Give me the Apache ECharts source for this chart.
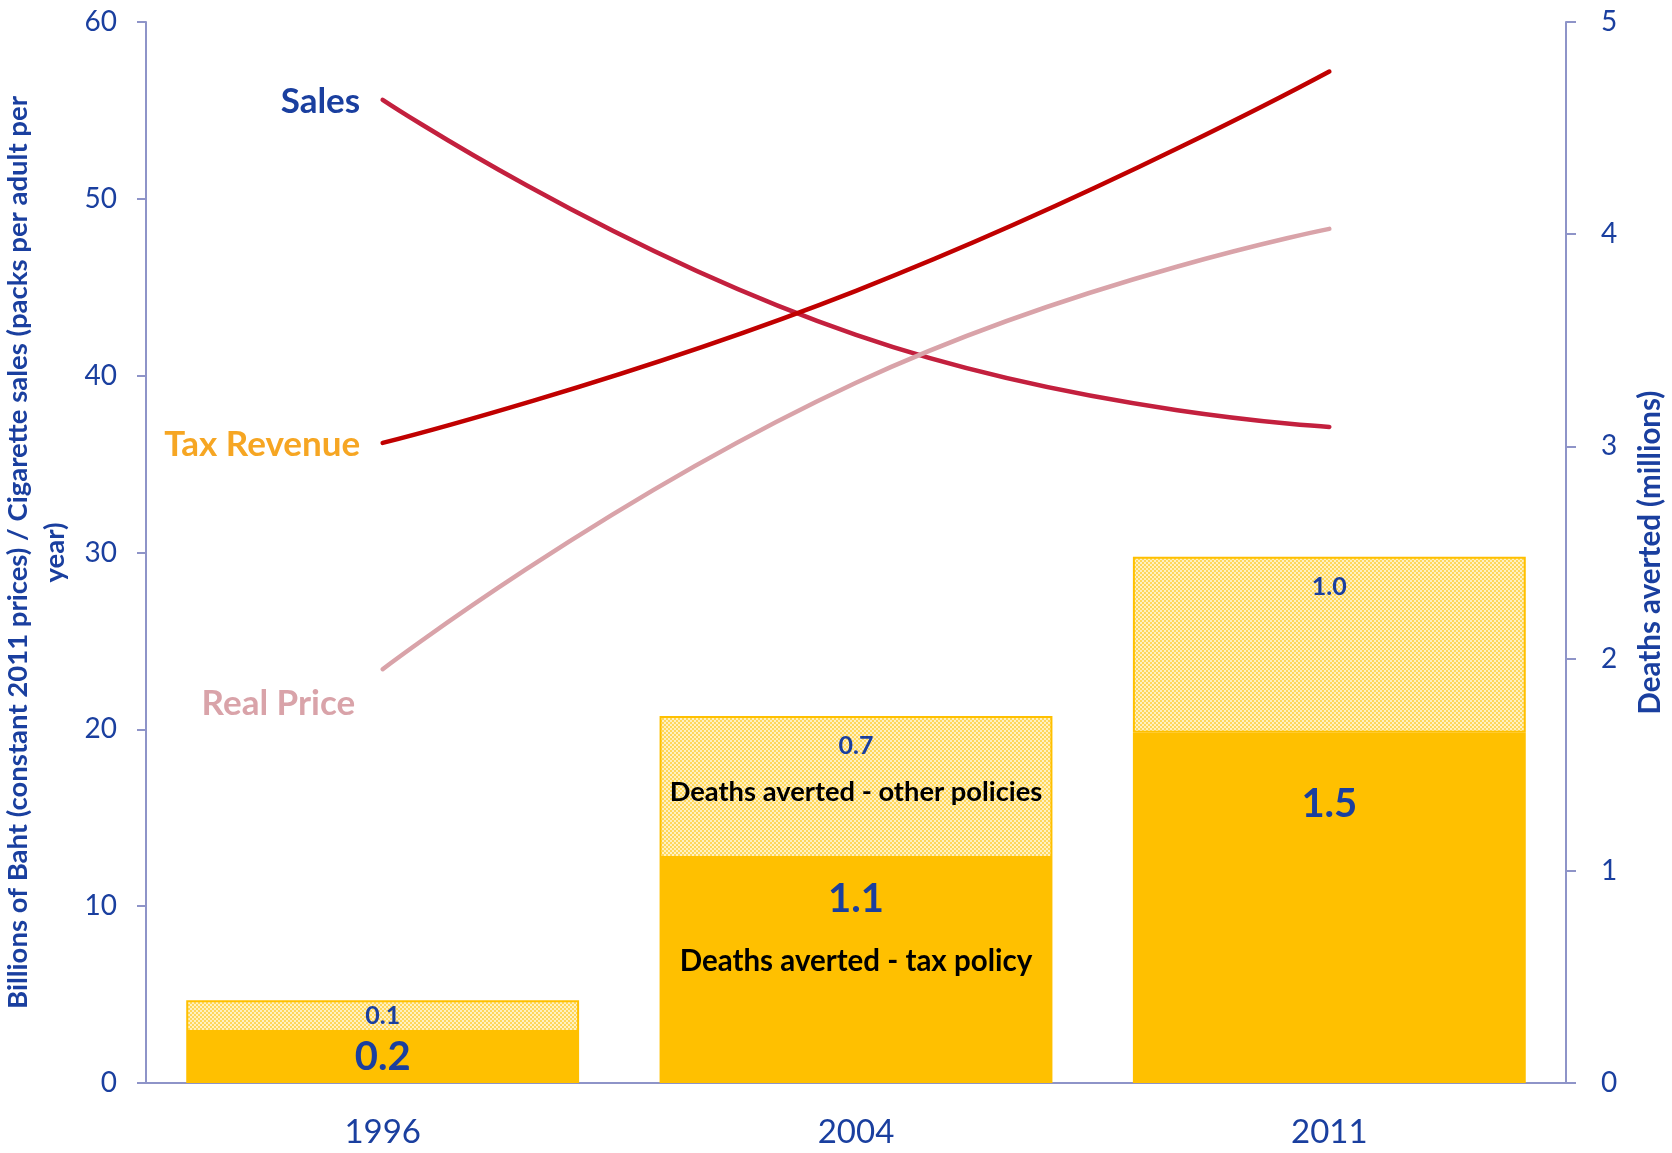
<!DOCTYPE html>
<html>
<head>
<meta charset="utf-8">
<script src="https://cdn.jsdelivr.net/npm/echarts@6/dist/echarts.min.js"></script>
<style>
  html, body { margin: 0; padding: 0; background: #fff; }
  #chart { width: 1672px; height: 1153px; }
</style>
</head>
<body>
<div id="chart"></div>
<script>
const years = ["1996", "2004", "2011"];
// left axis: billions of baht / packs per adult per year
const sales = [55.6, 42.3, 37.1];
const taxRevenue = [36.2, 44.8, 57.2];
const realPrice = [23.4, 39.6, 48.3];
// right axis: deaths averted (millions), heights as drawn
const deathsTax = [0.24, 1.06, 1.65];
const deathsOther = [0.15, 0.67, 0.83];
// numbers printed on the bars
const taxLabels = ["0.2", "1.1", "1.5"];
const otherLabels = ["0.1", "0.7", "1.0"];

const BLUE = "#1a3f9f";
const FONT = "Lato";
const AXIS_COLOR = "#8e94c8";

function checker() {
  const c = document.createElement("canvas");
  c.width = 4;
  c.height = 4;
  const g = c.getContext("2d");
  g.fillStyle = "#fff1c2";
  g.fillRect(0, 0, 4, 4);
  g.fillStyle = "#ffd75a";
  g.fillRect(0, 0, 2, 2);
  g.fillRect(2, 2, 2, 2);
  return c;
}

// per-bar label placement
const taxLabelCfg = [
  { position: "inside" },
  { position: "insideTop", distance: 20, text: "Deaths averted - tax policy" },
  { position: "insideTop", distance: 50 },
];
const otherLabelCfg = [
  { position: "inside" },
  { position: "insideTop", distance: 16, text: "Deaths averted - other policies" },
  { position: "insideTop", distance: 16 },
];

function barData(values, labels, cfgs, vStyle, textSize) {
  return values.map((v, i) => {
    const cfg = cfgs[i];
    return {
      value: v,
      label: {
        show: true,
        position: cfg.position,
        distance: cfg.distance || 0,
        formatter: cfg.text ? `{v|${labels[i]}}\n{t|${cfg.text}}` : `{v|${labels[i]}}`,
        rich: {
          v: vStyle,
          t: {
            fontFamily: FONT,
            fontWeight: "bold",
            fontSize: textSize,
            color: "#000",
            lineHeight: vStyle.fontSize > 30 ? 82 : 64,
          },
        },
      },
    };
  });
}

function lineData(values, name, color, distance, offset) {
  return values.map((v, i) =>
    i === 0
      ? {
          value: v,
          label: {
            show: true,
            formatter: name,
            position: "left",
            distance: distance,
            offset: offset,
            color: color,
            fontFamily: FONT,
            fontWeight: "bold",
            fontSize: 35,
          },
        }
      : v
  );
}

const chart = echarts.init(document.getElementById("chart"));

chart.setOption({
  animation: false,
  backgroundColor: "#fff",
  grid: { left: 146, right: 106, top: 22, bottom: 70, containLabel: false, outerBoundsMode: "none" },
  xAxis: {
    type: "category",
    data: years,
    axisLine: { lineStyle: { color: AXIS_COLOR, width: 2 } },
    axisTick: { length: 9, lineStyle: { color: AXIS_COLOR, width: 2 } },
    axisLabel: { color: BLUE, fontFamily: FONT, fontSize: 33, margin: 33 },
  },
  yAxis: [
    {
      type: "value",
      min: 0,
      max: 60,
      interval: 10,
      name: "Billions of Baht (constant 2011 prices) / Cigarette sales (packs per adult per\nyear)",
      nameLocation: "middle",
      nameGap: 68,
      nameTextStyle: {
        color: BLUE,
        fontFamily: FONT,
        fontWeight: "bold",
        fontSize: 27.5,
        lineHeight: 37,
        align: "center",
      },
      axisLine: { show: true, lineStyle: { color: AXIS_COLOR, width: 2 } },
      axisTick: { show: true, length: 9, lineStyle: { color: AXIS_COLOR, width: 2 } },
      axisLabel: { color: BLUE, fontFamily: FONT, fontSize: 28, margin: 29 },
      splitLine: { show: false },
    },
    {
      type: "value",
      min: 0,
      max: 5,
      interval: 1,
      position: "right",
      name: "Deaths averted (millions)",
      nameLocation: "middle",
      nameRotate: 90,
      nameGap: 69,
      nameTextStyle: {
        color: BLUE,
        fontFamily: FONT,
        fontWeight: "bold",
        fontSize: 29.5,
      },
      axisLine: { show: true, lineStyle: { color: AXIS_COLOR, width: 2 } },
      axisTick: { show: true, length: 10, lineStyle: { color: AXIS_COLOR, width: 2 } },
      axisLabel: { color: BLUE, fontFamily: FONT, fontSize: 28, margin: 35 },
      splitLine: { show: false },
    },
  ],
  series: [
    {
      name: "Deaths averted - tax policy",
      type: "bar",
      yAxisIndex: 1,
      stack: "deaths",
      barWidth: "83%",
      itemStyle: { color: "#ffc000" },
      data: barData(deathsTax, taxLabels, taxLabelCfg, {
        fontFamily: FONT,
        fontWeight: "bold",
        fontSize: 40,
        color: BLUE,
        lineHeight: 42,
      }, 29.5),
    },
    {
      name: "Deaths averted - other policies",
      type: "bar",
      yAxisIndex: 1,
      stack: "deaths",
      barWidth: "83%",
      itemStyle: {
        color: { image: checker(), repeat: "repeat" },
        borderColor: "#ffc000",
        borderWidth: 2,
      },
      data: barData(deathsOther, otherLabels, otherLabelCfg, {
        fontFamily: FONT,
        fontWeight: "bold",
        fontSize: 25,
        color: BLUE,
        lineHeight: 28,
      }, 27.3),
    },
    {
      name: "Sales",
      type: "line",
      smooth: 0.5,
      symbol: "circle",
      symbolSize: 1,
      lineStyle: { color: "#c3203e", width: 4.5, cap: "round" },
      itemStyle: { color: "#c3203e" },
      data: lineData(sales, "Sales", BLUE, 22, [0, 2]),
    },
    {
      name: "Tax Revenue",
      type: "line",
      smooth: 0.5,
      symbol: "circle",
      symbolSize: 1,
      lineStyle: { color: "#c00000", width: 4.5, cap: "round" },
      itemStyle: { color: "#c00000" },
      data: lineData(taxRevenue, "Tax Revenue", "#f6a623", 22, [0, 2]),
    },
    {
      name: "Real Price",
      type: "line",
      smooth: 0.5,
      symbol: "circle",
      symbolSize: 1,
      lineStyle: { color: "#d9a3a9", width: 4.5, cap: "round" },
      itemStyle: { color: "#d9a3a9" },
      data: lineData(realPrice, "Real Price", "#d9a3a9", 27, [0, 35]),
    },
  ],
});
</script>
</body>
</html>
